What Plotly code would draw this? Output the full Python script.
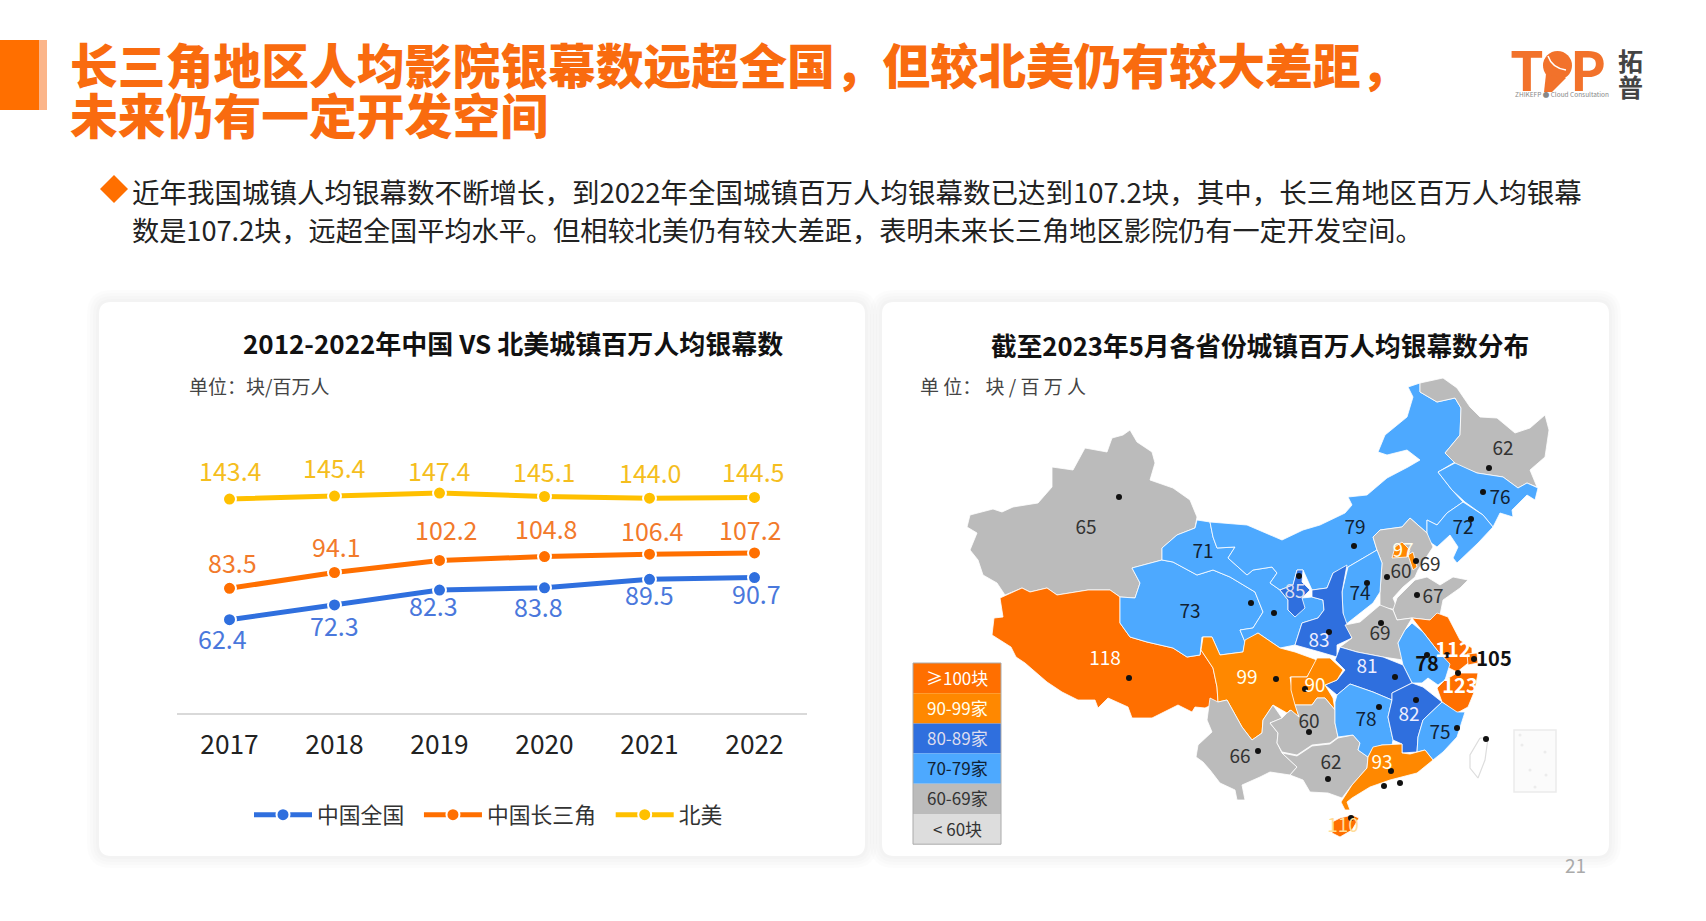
import plotly.graph_objects as go

FONT = "Noto Sans CJK SC"
ORANGE_RED = "#FF6F00"
ORANGE = "#FF8800"
DARK_BLUE = "#2F6FDE"
LIGHT_BLUE = "#4DA9FF"
GRAY = "#BBBBBB"
PALE_GRAY = "#DDDDDD"

# line chart
years = ["2017", "2018", "2019", "2020", "2021", "2022"]
china = [62.4, 72.3, 82.3, 83.8, 89.5, 90.7]
delta = [83.5, 94.1, 102.2, 104.8, 106.4, 107.2]
north_america = [143.4, 145.4, 147.4, 145.1, 144.0, 144.5]

# label nudges in px
china_dx = [-7.5, 0, -6, -6, -0.5, 1.5]
china_dy = [-18, -20, -15, -18, -15, -15]
delta_dx = [3.4, 2.3, 6.5, 1.2, 3.4, -4.8]
delta_dy = [26, 26, 31, 28.6, 24, 23.7]
na_dx = [1, 0, 0, -0.5, 0, -1.5]
na_dy = [28.7, 29, 23.4, 25.5, 26, 26.4]

# map: province values, map units are reference pixels
provinces = ["新疆", "西藏", "青海", "甘肃", "内蒙古", "黑龙江", "吉林", "辽宁", "河北", "北京", "天津",
             "山西", "陕西", "宁夏", "山东", "河南", "江苏", "上海", "安徽", "浙江", "湖北", "四川", "重庆",
             "云南", "贵州", "广西", "湖南", "江西", "福建", "广东", "海南"]
province_values = [65, 118, 73, 71, 79, 62, 76, 72, 60, 97, 69,
                   74, 83, 85, 67, 69, 112, 105, 78, 123, 81, 99, 90,
                   66, 60, 62, 78, 82, 75, 93, 110]

outlines = {
    "新疆": [(967,527),(970,515),(993,509),(1002,512),(1013,507),(1038,503),(1052,487),(1052,467),(1073,470),(1085,448),(1107,452),(1112,438),(1123,435),(1130,430),(1137,442),(1152,452),(1155,463),(1150,480),(1173,488),(1190,500),(1197,517),(1195,528),(1177,535),(1162,548),(1162,560),(1132,568),(1140,583),(1135,598),(1120,597),(1110,590),(1088,590),(1057,595),(1047,588),(1030,592),(1022,588),(1005,595),(997,583),(983,575),(978,560),(970,550),(977,533)],
    "西藏": [(1000,598),(1022,588),(1030,592),(1047,588),(1057,595),(1088,590),(1110,590),(1120,597),(1120,623),(1130,637),(1147,642),(1173,648),(1187,657),(1200,655),(1201,650),(1213,668),(1217,687),(1218,702),(1205,708),(1195,707),(1192,712),(1178,705),(1152,718),(1132,718),(1128,707),(1108,698),(1098,708),(1095,700),(1078,700),(1062,692),(1047,682),(1025,663),(1016,657),(1011,647),(992,635),(994,618),(1003,617)],
    "青海": [(1132,568),(1162,560),(1173,562),(1197,575),(1213,570),(1230,577),(1255,592),(1263,612),(1253,628),(1240,630),(1245,642),(1243,652),(1220,655),(1212,637),(1202,637),(1201,650),(1200,655),(1187,657),(1173,648),(1147,642),(1130,637),(1120,623),(1120,597),(1135,598),(1140,583)],
    "甘肃": [(1197,520),(1210,522),(1213,537),(1217,548),(1235,547),(1228,558),(1247,575),(1253,570),(1272,567),(1277,573),(1270,583),(1280,590),(1288,600),(1288,610),(1295,617),(1302,598),(1312,597),(1323,600),(1324,610),(1318,618),(1302,623),(1295,645),(1280,648),(1258,633),(1245,642),(1240,630),(1253,628),(1263,612),(1255,592),(1230,577),(1213,570),(1197,575),(1173,562),(1162,560),(1162,548),(1177,535),(1195,528)],
    "内蒙古": [(1408,387),(1420,383),(1420,392),(1437,402),(1455,398),(1461,408),(1460,435),(1445,453),(1455,462),(1438,472),(1452,490),(1463,502),(1447,513),(1437,525),(1427,520),(1427,533),(1410,518),(1402,527),(1380,530),(1373,537),(1377,550),(1348,567),(1333,573),(1327,588),(1312,590),(1303,570),(1297,570),(1293,585),(1280,590),(1270,583),(1277,573),(1272,567),(1253,570),(1247,575),(1228,558),(1235,547),(1217,548),(1213,537),(1210,522),(1247,525),(1282,540),(1303,530),(1320,525),(1345,513),(1352,505),(1348,497),(1367,495),(1387,478),(1408,467),(1420,460),(1407,450),(1387,455),(1378,452),(1385,435),(1407,417),(1413,397)],
    "黑龙江": [(1420,383),(1443,378),(1457,388),(1470,407),(1480,417),(1497,418),(1515,433),(1530,428),(1545,415),(1549,430),(1545,457),(1530,470),(1537,487),(1527,483),(1518,488),(1503,477),(1477,473),(1457,465),(1445,453),(1460,435),(1461,408),(1455,398),(1437,402),(1420,392)],
    "吉林": [(1438,472),(1455,463),(1477,473),(1503,477),(1518,488),(1527,483),(1538,488),(1535,500),(1527,495),(1512,510),(1513,517),(1500,513),(1493,527),(1483,515),(1465,502),(1452,490)],
    "辽宁": [(1463,502),(1483,515),(1493,527),(1478,543),(1457,563),(1453,558),(1458,547),(1450,535),(1437,547),(1427,540),(1427,520),(1437,525),(1447,513)],
    "河北": [(1373,537),(1380,530),(1402,527),(1410,518),(1427,533),(1433,547),(1418,570),(1415,577),(1403,587),(1393,598),(1398,610),(1380,607),(1380,592),(1382,563),(1377,550)],
    "北京": [(1402,542),(1410,550),(1407,557),(1392,558),(1395,547)],
    "天津": [(1408,555),(1413,552),(1417,567),(1413,570)],
    "山西": [(1348,567),(1377,550),(1382,563),(1380,592),(1373,603),(1345,625),(1343,613),(1342,592)],
    "陕西": [(1347,565),(1345,577),(1342,592),(1343,613),(1352,638),(1337,645),(1337,657),(1320,652),(1295,645),(1302,623),(1318,618),(1324,610),(1323,600),(1312,597),(1312,590),(1327,588),(1333,573)],
    "宁夏": [(1297,570),(1303,570),(1302,582),(1310,590),(1302,598),(1305,608),(1295,617),(1288,610),(1288,600),(1280,590),(1293,585)],
    "山东": [(1393,610),(1397,598),(1415,580),(1427,577),(1440,585),(1453,577),(1468,580),(1460,588),(1443,600),(1440,615),(1430,620),(1412,618),(1397,620)],
    "河南": [(1345,625),(1360,622),(1380,605),(1393,610),(1397,620),(1412,618),(1405,630),(1398,643),(1403,660),(1383,657),(1357,652),(1340,647),(1352,638)],
    "江苏": [(1412,618),(1430,620),(1437,613),(1448,617),(1460,640),(1472,648),(1472,660),(1457,672),(1447,667),(1437,650),(1423,632)],
    "上海": [(1467,654),(1477,653),(1478,663),(1468,665)],
    "安徽": [(1405,630),(1412,623),(1423,632),(1437,650),(1450,664),(1445,680),(1438,685),(1428,678),(1422,683),(1412,683),(1403,665),(1398,643)],
    "浙江": [(1457,673),(1478,673),(1475,690),(1468,707),(1457,713),(1442,702),(1437,688),(1445,680)],
    "湖北": [(1337,655),(1340,647),(1357,652),(1383,657),(1403,665),(1412,683),(1392,693),(1392,700),(1373,692),(1350,684),(1337,695),(1325,685),(1337,680),(1345,670),(1335,660)],
    "四川": [(1203,637),(1212,637),(1220,655),(1243,652),(1245,640),(1258,633),(1280,648),(1295,652),(1317,660),(1307,677),(1290,677),(1293,695),(1299,717),(1290,710),(1287,713),(1273,705),(1263,720),(1262,733),(1252,740),(1242,727),(1227,700),(1218,702),(1217,687),(1213,668),(1201,650)],
    "重庆": [(1317,658),(1330,658),(1343,670),(1337,680),(1325,685),(1333,698),(1335,710),(1325,698),(1317,698),(1312,705),(1295,705),(1291,690),(1291,677),(1307,677)],
    "云南": [(1210,698),(1218,702),(1227,700),(1242,727),(1252,740),(1262,733),(1263,720),(1273,705),(1282,718),(1270,723),(1278,733),(1277,743),(1282,753),(1297,767),(1290,775),(1270,772),(1260,777),(1242,785),(1245,800),(1237,800),(1235,790),(1220,783),(1210,770),(1203,762),(1196,757),(1198,745),(1212,732),(1207,720)],
    "贵州": [(1270,723),(1282,718),(1287,713),(1291,710),(1299,717),(1295,705),(1312,705),(1317,698),(1325,698),(1335,710),(1335,723),(1338,737),(1330,743),(1312,745),(1297,755),(1282,752),(1277,743),(1278,733)],
    "广西": [(1282,753),(1297,756),(1312,746),(1330,744),(1338,738),(1353,735),(1360,743),(1358,750),(1368,757),(1367,768),(1352,785),(1342,798),(1328,793),(1310,792),(1303,780),(1290,775),(1297,767)],
    "湖南": [(1350,684),(1373,692),(1392,700),(1388,717),(1393,740),(1392,745),(1382,745),(1373,748),(1368,757),(1358,750),(1360,743),(1353,735),(1338,737),(1335,723),(1335,702),(1337,695)],
    "江西": [(1412,683),(1423,687),(1442,702),(1423,720),(1418,737),(1417,752),(1402,753),(1402,744),(1393,740),(1388,717),(1392,700),(1392,693)],
    "福建": [(1442,702),(1457,712),(1465,712),(1457,737),(1443,752),(1433,760),(1425,750),(1417,752),(1418,737),(1423,720)],
    "广东": [(1373,747),(1382,745),(1402,744),(1402,753),(1410,754),(1425,750),(1433,760),(1417,773),(1390,780),(1370,787),(1352,798),(1347,802),(1350,810),(1345,810),(1341,802),(1352,785),(1367,768),(1368,757)],
    "海南": [(1352,815),(1359,818),(1352,830),(1340,837),(1332,833),(1332,822),(1340,818)],
}
taiwan = [(1480,738),(1488,738),(1485,760),(1478,778),(1470,768),(1470,755),(1480,738)]
south_sea_x = [1520, 1522, 1545, 1530, 1546, 1535]
south_sea_y = [735, 745, 752, 770, 775, 787]

# province number labels (white ones sit on the dark fills)
label_text = ["65", "71", "73", "118", "79", "62", "76", "72", "97", "69", "60", "74", "85", "67", "83", "69",
              "99", "90", "81", "78", "82", "75", "60", "66", "62", "93", "110"]
label_x = [1086, 1203, 1190, 1105, 1355, 1503, 1500, 1463, 1403, 1430, 1401, 1360, 1295, 1433, 1319, 1380,
           1247, 1315, 1367, 1366, 1409, 1440, 1309, 1240, 1331, 1382, 1343]
label_y = [529, 553, 613, 660, 529, 450, 499, 529, 552, 566, 573, 595, 593, 598, 642, 635,
           679, 687, 668, 721, 716, 734, 723, 758, 764, 764, 827]
label_color = ["#333", "#123", "#123", "#FFF", "#123", "#333", "#123", "#123", "#FFE", "#333", "#333", "#123",
               "#DDE", "#333", "#EEF", "#333", "#FFE", "#FFE", "#EEF", "#123", "#EEF", "#123", "#333", "#333",
               "#333", "#FFE", "#FD9"]
bold_text = ["78", "112", "105", "123"]
bold_x = [1427, 1453, 1494, 1460]
bold_y = [666, 652, 661, 688]
bold_color = ["#111", "#FFF", "#111", "#FFF"]

city_x = [1119, 1251, 1274, 1129, 1354, 1489, 1483, 1471, 1416, 1387, 1367, 1299, 1417, 1329, 1381, 1427, 1447,
          1474, 1458, 1276, 1305, 1395, 1379, 1416, 1457, 1309, 1258, 1328, 1391, 1384, 1400, 1351, 1486]
city_y = [497, 603, 613, 678, 546, 468, 492, 519, 561, 577, 583, 576, 595, 632, 623, 655, 655,
          659, 673, 679, 689, 677, 707, 700, 728, 732, 751, 779, 771, 786, 783, 818, 739]

legend_labels = ["≥100块", "90-99家", "80-89家", "70-79家", "60-69家", "< 60块"]
legend_fills = [ORANGE_RED, ORANGE, DARK_BLUE, LIGHT_BLUE, GRAY, PALE_GRAY]
legend_text_colors = ["#FFF", "#FFE", "#DDE", "#123", "#333", "#333"]


def band_color(value):
    if value >= 100:
        return ORANGE_RED
    if value >= 90:
        return ORANGE
    if value >= 80:
        return DARK_BLUE
    if value >= 70:
        return LIGHT_BLUE
    return GRAY


def rounded(x0, y0, x1, y1, r):
    return (f"M{x0+r},{y0} L{x1-r},{y0} Q{x1},{y0} {x1},{y0+r} L{x1},{y1-r} Q{x1},{y1} {x1-r},{y1} "
            f"L{x0+r},{y1} Q{x0},{y1} {x0},{y1-r} L{x0},{y0+r} Q{x0},{y0} {x0+r},{y0} Z")


fig = go.Figure()

# the page and the map use x/y (full page, 1 unit = 1 px), the line chart sits on x2/y2 on top
for name, value in zip(provinces, province_values):
    pts = outlines[name] + [outlines[name][0]]
    # Tianjin is labelled 69 but painted orange in the source
    color = ORANGE if name == "天津" else band_color(value)
    fig.add_trace(go.Scatter(x=[p[0] for p in pts], y=[p[1] for p in pts],
                             mode="lines", fill="toself", fillcolor=color,
                             line=dict(color="rgba(255,255,255,0.8)", width=1),
                             showlegend=False, hoverinfo="skip"))
fig.add_trace(go.Scatter(x=[p[0] for p in taiwan], y=[p[1] for p in taiwan],
                         mode="lines", line=dict(color="#DDDDDD", width=1.2), showlegend=False, hoverinfo="skip"))
fig.add_trace(go.Scatter(x=south_sea_x, y=south_sea_y, mode="markers",
                         marker=dict(color="#E6E6E6", size=3), showlegend=False, hoverinfo="skip"))
fig.add_trace(go.Scatter(x=city_x, y=city_y, mode="markers",
                         marker=dict(color="#111", size=6), showlegend=False, hoverinfo="skip"))
fig.add_trace(go.Scatter(x=label_x, y=label_y, mode="text", text=label_text,
                         textfont=dict(family=FONT, size=19, color=label_color), showlegend=False, hoverinfo="skip"))
fig.add_trace(go.Scatter(x=bold_x, y=bold_y, mode="text", text=bold_text,
                         textfont=dict(family=FONT, size=20, color=bold_color, weight="bold"),
                         showlegend=False, hoverinfo="skip"))

series = [("中国全国\u00a0\u00a0", china, "#2F6FDE", "#4A78DC", china_dx, china_dy),
          ("中国长三角\u00a0\u00a0", delta, "#FF6F00", "#F27A2B", delta_dx, delta_dy),
          ("北美", north_america, "#FFC000", "#F5BE1E", na_dx, na_dy)]
annotations = []
for name, values, color, text_color, dx, dy in series:
    fig.add_trace(go.Scatter(x=years, y=values, name=name, xaxis="x2", yaxis="y2", mode="lines+markers",
                             line=dict(color=color, width=5),
                             marker=dict(color=color, size=13, line=dict(color="white", width=2))))
    # annotation x is the category index, "2017" would be read as a number
    for i, v in enumerate(values):
        annotations.append(dict(x=i, y=v, xref="x2", yref="y2", text=f"{v:.1f}", showarrow=False,
                                xshift=dx[i], yshift=dy[i], xanchor="center", yanchor="middle",
                                font=dict(family=FONT, size=25, color=text_color)))


def page_text(x, y, text, size, color="#222", anchor="left", weight=None):
    font = dict(family=FONT, size=size, color=color)
    if weight:
        font["weight"] = weight
    annotations.append(dict(x=x, y=y, xref="x", yref="y", text=text, showarrow=False, xanchor=anchor,
                            yanchor="middle", font=font, align=anchor))


page_text(68, 63, "长三角地区人均影院银幕数远超全国，但较北美仍有较大差距，", 47.8, "#F96B0F", weight=900)
page_text(68, 113, "未来仍有一定开发空间", 47.8, "#F96B0F", weight=900)
page_text(130, 191, "近年我国城镇人均银幕数不断增长，到2022年全国城镇百万人均银幕数已达到107.2块，其中，长三角地区百万人均银幕", 27.5)
page_text(130, 229, "数是107.2块，远超全国平均水平。但相较北美仍有较大差距，表明未来长三角地区影院仍有一定开发空间。", 27.18)
page_text(513, 342, "2012-2022年中国 VS 北美城镇百万人均银幕数", 26, "#111", "center", "bold")
page_text(1260, 344, "截至2023年5月各省份城镇百万人均银幕数分布", 25.7, "#111", "center", "bold")
page_text(187, 385, "单位：块/百万人", 19, "#444")
page_text(918, 385, "单 位： 块 / 百 万 人", 19, "#444")
page_text(1588, 864, "21", 19, "#AAAAAA", "right")

# logo
page_text(1527, 67, "T", 54, "#F2722B", "center", "bold")
page_text(1588, 67, "P", 54, "#F2722B", "center", "bold")
page_text(1630, 60, "拓", 25, "#444", "center", "bold")
page_text(1630, 86, "普", 25, "#444", "center", "bold")
page_text(1513, 94, "ZHIKEFP ● Cloud Consultation", 6.5, "#888")

shapes = []

# cards with a soft shadow
for x0, x1 in [(99, 865), (882, 1609)]:
    for grow in (12, 9, 6, 3):
        shapes.append(dict(type="path", layer="below", line_width=0,
                           path=rounded(x0 - grow, 302 - grow, x1 + grow, 856 + grow, 12 + grow),
                           fillcolor="rgba(0,0,0,0.012)"))
    shapes.append(dict(type="path", layer="below", line_width=0,
                       path=rounded(x0, 302, x1, 856, 12), fillcolor="white"))

# colour key
key_top = 663
key_row = 30.2
for i, (lab, fill, tc) in enumerate(zip(legend_labels, legend_fills, legend_text_colors)):
    shapes.append(dict(type="rect", x0=913, x1=1001, y0=key_top + i * key_row,
                       y1=key_top + (i + 1) * key_row, fillcolor=fill, line_width=0, layer="below"))
    page_text(957, key_top + (i + 0.5) * key_row - 1, lab, 17, tc, "center")
shapes.append(dict(type="rect", x0=913, x1=1001, y0=key_top, y1=key_top + 6 * key_row,
                   line=dict(color="#AAAAAA", width=1), fillcolor="rgba(0,0,0,0)", layer="below"))

# title accent, bullet, logo circle, south sea box
shapes += [
    dict(type="rect", x0=0, x1=39, y0=40, y1=110, fillcolor="#FF6F00", line_width=0),
    dict(type="rect", x0=39, x1=47, y0=40, y1=110, fillcolor="#FBB58A", line_width=0),
    dict(type="path", path="M114,175 L128,189 L114,203 L100,189 Z", fillcolor="#FF6F00", line_width=0),
    dict(type="circle", x0=1543, x1=1572, y0=51, y1=80, fillcolor="#F2722B", line_width=0),
    dict(type="path", path="M1546,74 L1566,78 L1552,92 L1544,92 Z", fillcolor="#F2722B", line_width=0),
    dict(type="path", path="M1548,56 Q1552,68 1566,70", line=dict(color="white", width=1.5)),
    dict(type="rect", x0=1514, x1=1556, y0=730, y1=792, line=dict(color="#EBEBEB", width=1.5),
         fillcolor="rgba(245,245,245,0.4)"),
]

fig.update_layout(
    width=1706,
    height=921,
    margin=dict(l=0, r=0, t=0, b=0),
    paper_bgcolor="white",
    plot_bgcolor="rgba(0,0,0,0)",
    font=dict(family=FONT),
    showlegend=True,
    legend=dict(orientation="h", x=249 / 1706, y=1 - 815 / 921, xanchor="left", yanchor="middle",
                itemwidth=58, font=dict(family=FONT, size=21.8, color="#333"), bgcolor="rgba(0,0,0,0)"),
    xaxis=dict(domain=[0, 1], range=[0, 1706], visible=False, anchor="y"),
    yaxis=dict(domain=[0, 1], range=[921, 0], visible=False, anchor="x"),
    xaxis2=dict(domain=[177 / 1706, 807 / 1706], type="category", range=[-0.5, 5.5], showgrid=False, zeroline=False,
                showline=True, linecolor="#D9D9D9", linewidth=2, ticks="", ticklen=0, ticklabelstandoff=8,
                tickfont=dict(family=FONT, size=26.3, color="#222"), anchor="y2"),
    yaxis2=dict(domain=[1 - 712.7 / 921, 1 - (712.7 - 160 * 1.49) / 921], range=[0, 160], visible=False, anchor="x2"),
    shapes=shapes,
    annotations=annotations,
)

fig.write_html("out.html", config=dict(displayModeBar=False), post_script="document.body.style.margin='0';")
